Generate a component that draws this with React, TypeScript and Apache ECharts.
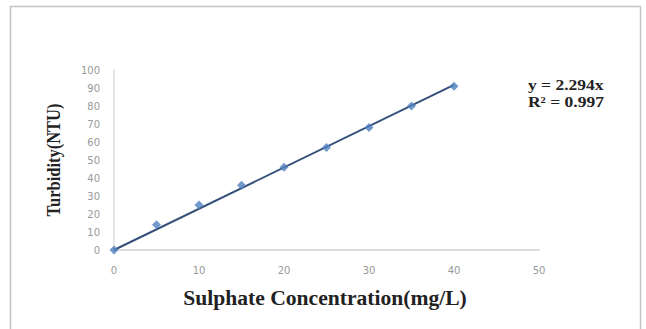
import React, { useEffect, useRef } from "react";
import * as echarts from "echarts";

const concentration = [0, 5, 10, 15, 20, 25, 30, 35, 40];
const turbidity = [0, 14, 25, 36, 46, 57, 68, 80, 91];
const slope = 2.294;
const trendX = [0, 40];
const equationLines = ["y = 2.294x", "R² = 0.997"];
const xTitle = "Sulphate Concentration(mg/L)";
const yTitle = "Turbidity(NTU)";

export default function App() {
  const ref = useRef<HTMLDivElement>(null);
  useEffect(() => {
    if (!ref.current) return;
    const chart = echarts.init(ref.current, null, { renderer: "svg" });
    chart.setOption({
      animation: false,
      backgroundColor: "#ffffff",
      grid: { left: 114, right: 107, top: 70, bottom: 79 },
      xAxis: {
        type: "value",
        min: 0,
        max: 50,
        interval: 10,
        axisLine: { show: true, lineStyle: { color: "#dcdcdc", width: 2 } },
        axisTick: { show: false },
        splitLine: { show: false },
        axisLabel: { color: "#999999", fontSize: 10, fontFamily: "DejaVu Sans", margin: 15 },
      },
      yAxis: {
        type: "value",
        min: 0,
        max: 100,
        interval: 10,
        axisLine: { show: true, lineStyle: { color: "#dcdcdc", width: 1.5 } },
        axisTick: { show: false },
        splitLine: { show: false },
        axisLabel: { color: "#999999", fontSize: 10, fontFamily: "DejaVu Sans", margin: 14 },
      },
      series: [
        {
          type: "line",
          data: trendX.map((x) => [x, slope * x]),
          showSymbol: false,
          symbol: "none",
          lineStyle: { color: "#34507a", width: 2 },
          z: 2,
        },
        {
          type: "scatter",
          data: concentration.map((x, i) => [x, turbidity[i]]),
          symbol: "diamond",
          symbolSize: 9,
          itemStyle: { color: "#4f7fbf" },
          z: 3,
        },
      ],
      graphic: [
        {
          type: "rect",
          shape: { x: 10.5, y: 6.5, width: 630, height: 340 },
          style: { fill: "none", stroke: "#c4c4c4", lineWidth: 1.5 },
          silent: true,
        },
        {
          type: "text",
          x: 528,
          y: 77,
          scaleX: 1.25,
          style: {
            text: equationLines.join("\n"),
            font: "bold 14px 'Liberation Serif'",
            fill: "#222",
            lineHeight: 17,
          },
        },
        {
          type: "text",
          x: 325,
          y: 298,
          scaleX: 1.08,
          style: {
            text: xTitle,
            font: "bold 20px 'Liberation Serif'",
            fill: "#222",
            align: "center",
            verticalAlign: "middle",
          },
        },
        {
          type: "text",
          x: 54,
          y: 160,
          rotation: Math.PI / 2,
          scaleY: 1.15,
          style: {
            text: yTitle,
            font: "bold 16.5px 'Liberation Serif'",
            fill: "#222",
            align: "center",
            verticalAlign: "middle",
          },
        },
      ],
    });
    return () => chart.dispose();
  }, []);
  return (
    <div
      ref={ref}
      style={{ position: "fixed", left: 0, top: 0, width: 646, height: 329 }}
    />
  );
}
